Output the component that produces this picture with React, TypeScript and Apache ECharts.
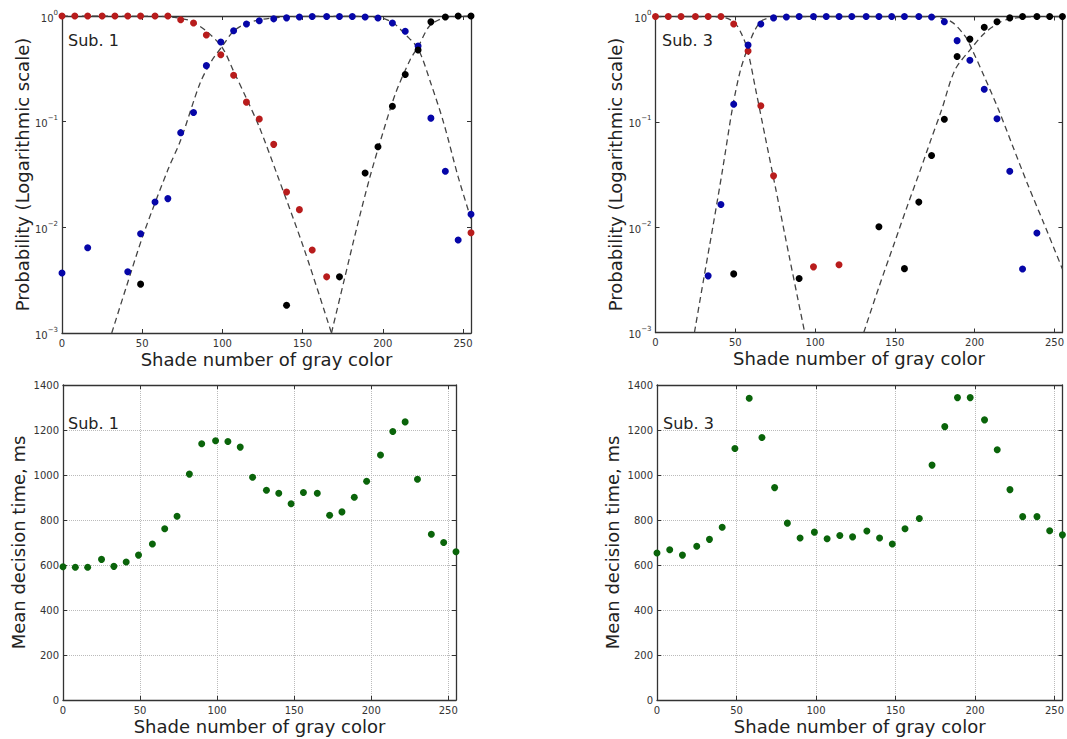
import React, { useEffect, useRef } from "react";
import * as echarts from "echarts";

// Shade numbers of the tested gray colours
const shades = [0, 8, 16, 25, 33, 41, 49, 58, 66, 74, 82, 90, 99, 107, 115, 123, 132, 140, 148, 156, 165, 173, 181, 189, 197, 206, 214, 222, 230, 239, 247, 255];

// Sub. 1 probabilities (null = not shown, below 1e-3)
const sub1Red = [1, 1, 1, 1, 1, 1, 1, 1, 1, 0.92, 0.86, 0.66, 0.43, 0.275, 0.153, 0.106, 0.061, 0.0216, 0.0147, 0.0061, 0.0034, null, null, null, null, null, null, null, null, null, null, 0.0089];
const sub1Blue = [0.0037, null, 0.0064, null, null, 0.0038, 0.0087, 0.0174, 0.0187, 0.0787, 0.122, 0.339, 0.568, 0.726, 0.84, 0.9, 0.94, 0.96, 0.98, 0.99, 0.99, 0.99, 0.99, 0.98, 0.957, 0.86, 0.716, 0.52, 0.108, 0.034, 0.0076, 0.0133];
const sub1Black = [null, null, null, null, null, null, 0.0029, null, null, null, null, null, null, null, null, null, null, 0.00183, null, null, null, 0.0034, null, 0.0327, 0.058, 0.14, 0.279, 0.477, 0.88, 0.98, 1, 1];

// Sub. 3 probabilities
const sub3Red = [1, 1, 1, 1, 1, 1, 0.85, 0.47, 0.142, 0.0307, null, null, 0.0042, null, 0.0044, null, null, null, null, null, null, null, null, null, null, null, null, null, null, null, null, null];
const sub3Blue = [null, null, null, null, 0.00345, 0.0164, 0.147, 0.535, 0.85, 0.97, 0.99, 1, 1, 1, 1, 1, 1, 1, 1, 1, 1, 0.99, 0.89, 0.59, 0.385, 0.204, 0.107, 0.034, 0.004, 0.0088, null, null];
const sub3Black = [null, null, null, null, null, null, 0.0036, null, null, null, null, 0.00325, null, null, null, null, null, 0.0101, null, 0.00404, 0.0173, 0.0479, 0.106, 0.417, 0.61, 0.79, 0.89, 0.97, 1, 1, 1, 1];

// Fitted (dashed) curves
const sub1RedFitX = [0, 40, 60, 70, 80, 90, 100, 107, 115, 123, 134, 151, 168];
const sub1RedFitP = [1, 0.999, 0.995, 0.97, 0.9, 0.72, 0.5, 0.3, 0.166, 0.089, 0.032, 0.0062, 0.001];
const sub1BlueFitX = [31, 40, 51, 66, 74, 86, 93, 100, 107, 115, 125, 140, 160, 180, 190, 200, 207, 214, 222, 230, 238, 247, 255];
const sub1BlueFitP = [0.001, 0.0027, 0.0088, 0.035, 0.067, 0.23, 0.37, 0.52, 0.72, 0.85, 0.93, 0.98, 0.995, 0.995, 0.985, 0.95, 0.85, 0.67, 0.49, 0.23, 0.097, 0.03, 0.012];
const sub1BlackFitX = [168, 176, 184, 192, 200, 208, 217, 222, 229, 237, 245, 255];
const sub1BlackFitP = [0.001, 0.0032, 0.0102, 0.03, 0.078, 0.186, 0.384, 0.51, 0.8, 0.95, 0.99, 1];

const sub3RedFitX = [0, 30, 40, 45, 50, 54, 57.7, 63, 69, 75, 84, 93.5];
const sub3RedFitP = [1, 0.999, 0.99, 0.96, 0.86, 0.68, 0.48, 0.195, 0.069, 0.0245, 0.0051, 0.001];
const sub3BlueFitX = [24.4, 30, 36, 42, 48.4, 53, 57.7, 62, 67, 75, 90, 172, 185, 194, 198, 206, 215, 224, 233, 243, 255];
const sub3BlueFitP = [0.001, 0.0031, 0.0102, 0.035, 0.14, 0.3, 0.5, 0.73, 0.92, 0.99, 1, 0.995, 0.9, 0.65, 0.5, 0.27, 0.13, 0.058, 0.026, 0.0112, 0.004];
const sub3BlackFitX = [130.5, 140, 150, 158, 166, 172.5, 179.3, 187.6, 198, 206, 215, 222, 235, 255];
const sub3BlackFitP = [0.001, 0.0027, 0.0073, 0.0162, 0.035, 0.067, 0.13, 0.31, 0.5, 0.69, 0.87, 0.95, 0.995, 1];

// Mean decision times (ms)
const sub1Time = [592, 590, 590, 625, 594, 613, 644, 693, 761, 817, 1004, 1139, 1152, 1149, 1124, 990, 932, 919, 872, 922, 919, 821, 836, 901, 972, 1089, 1193, 1236, 981, 737, 700, 659];
const sub3Time = [653, 668, 644, 683, 714, 768, 1118, 1341, 1167, 944, 786, 720, 746, 717, 731, 725, 751, 720, 693, 761, 807, 1044, 1215, 1344, 1344, 1245, 1112, 935, 815, 815, 752, 734];

const xTicks = [0, 50, 100, 150, 200, 250];

const FONT = "DejaVu Sans";
const AXIS_COLOR = "#333";
const LABEL_COLOR = "#333";
const RED = "#b81c1c";
const BLUE = "#0606a8";
const BLACK = "#000000";
const GREEN = "#0a640a";

function pairs(xs: number[], ys: (number | null)[]) {
  const out: number[][] = [];
  xs.forEach((x, i) => {
    const y = ys[i];
    if (y !== null && y !== undefined) out.push([x, y]);
  });
  return out;
}

const grids = [
  { left: 62, top: 16, width: 409, height: 317 },
  { left: 655.5, top: 16.5, width: 408.5, height: 316 },
  { left: 63, top: 385, width: 393, height: 315 },
  { left: 657, top: 385, width: 407, height: 315 },
];

function xAxesFor(g: number, grid: boolean) {
  const common = {
    type: "value",
    gridIndex: g,
    min: 0,
    max: 255,
    interval: 50,
    axisLine: { show: true, onZero: false, lineStyle: { color: AXIS_COLOR, width: 1.3 } },
    axisTick: { show: true, inside: true, length: 4, lineStyle: { color: AXIS_COLOR } },
  };
  return [
    {
      ...common,
      position: "bottom",
      name: "Shade number of gray color",
      nameLocation: "middle",
      nameGap: 17,
      nameTextStyle: { fontSize: 18, color: "#222", fontFamily: FONT },
      axisLabel: {
        fontSize: 10,
        color: LABEL_COLOR,
        fontFamily: FONT,
        margin: 5,
        formatter: (v: number) => (xTicks.includes(v) ? String(v) : ""),
      },
      splitLine: { show: grid, lineStyle: { type: "dotted", color: "#bbb", width: 1 } },
    },
    {
      ...common,
      position: "top",
      axisLabel: { show: false },
      splitLine: { show: false },
    },
  ];
}

function logYAxesFor(g: number) {
  const common = {
    type: "log",
    logBase: 10,
    gridIndex: g,
    min: 0.001,
    max: 1,
    axisLine: { show: true, onZero: false, lineStyle: { color: AXIS_COLOR, width: 1.3 } },
    axisTick: { show: true, inside: true, length: 4, lineStyle: { color: AXIS_COLOR } },
    splitLine: { show: false },
  };
  return [
    {
      ...common,
      position: "left",
      name: "Probability (Logarithmic scale)",
      nameLocation: "middle",
      nameGap: 31,
      nameTextStyle: { fontSize: 18, color: "#222", fontFamily: FONT },
      axisLabel: {
        margin: 4,
        formatter: (v: number) => {
          const e = Math.round(Math.log10(v));
          return `{b|10}{s|${e < 0 ? "\u2212" + -e : e}}`;
        },
        rich: {
          b: { fontSize: 10, color: LABEL_COLOR, fontFamily: FONT, lineHeight: 14, verticalAlign: "bottom" },
          s: { fontSize: 7, color: LABEL_COLOR, fontFamily: FONT, lineHeight: 14, verticalAlign: "top" },
        },
      },
    },
    { ...common, position: "right", axisLabel: { show: false } },
  ];
}

function linYAxesFor(g: number) {
  const common = {
    type: "value",
    gridIndex: g,
    min: 0,
    max: 1400,
    interval: 200,
    axisLine: { show: true, onZero: false, lineStyle: { color: AXIS_COLOR, width: 1.3 } },
    axisTick: { show: true, inside: true, length: 4, lineStyle: { color: AXIS_COLOR } },
  };
  return [
    {
      ...common,
      position: "left",
      name: "Mean decision time, ms",
      nameLocation: "middle",
      nameGap: 36,
      nameTextStyle: { fontSize: 18, color: "#222", fontFamily: FONT },
      axisLabel: {
        fontSize: 10,
        color: LABEL_COLOR,
        fontFamily: FONT,
        margin: 4,
        formatter: (v: number) => String(v),
      },
      splitLine: { show: true, lineStyle: { type: "dotted", color: "#bbb", width: 1 } },
    },
    { ...common, position: "right", axisLabel: { show: false }, splitLine: { show: false } },
  ];
}

function dots(g: number, data: number[][], color: string) {
  return {
    type: "scatter",
    xAxisIndex: 2 * g,
    yAxisIndex: 2 * g,
    data,
    symbol: "circle",
    symbolSize: 7,
    clip: false,
    itemStyle: { color, opacity: 1 },
    z: 3,
  };
}

function fit(g: number, xs: number[], ps: number[]) {
  return {
    type: "line",
    xAxisIndex: 2 * g,
    yAxisIndex: 2 * g,
    data: pairs(xs, ps),
    smooth: 0.3,
    showSymbol: false,
    symbol: "none",
    lineStyle: { color: "#444", width: 1.3, type: [6, 4] },
    z: 2,
  };
}

function subLabel(text: string, x: number, y: number) {
  return {
    type: "text",
    x,
    y,
    style: { text, fontSize: 16, fontFamily: FONT, fill: "#222", verticalAlign: "middle", align: "left" },
    z: 10,
  };
}

export default function App() {
  const ref = useRef<HTMLDivElement>(null);
  useEffect(() => {
    if (!ref.current) return;
    const chart = echarts.init(ref.current, null, { renderer: "svg" });
    const option: any = {
      animation: false,
      backgroundColor: "#ffffff",
      textStyle: { fontFamily: FONT },
      grid: grids.map((g) => ({ ...g, containLabel: false })),
      xAxis: [...xAxesFor(0, false), ...xAxesFor(1, false), ...xAxesFor(2, true), ...xAxesFor(3, true)],
      yAxis: [...logYAxesFor(0), ...logYAxesFor(1), ...linYAxesFor(2), ...linYAxesFor(3)],
      series: [
        fit(0, sub1RedFitX, sub1RedFitP),
        fit(0, sub1BlueFitX, sub1BlueFitP),
        fit(0, sub1BlackFitX, sub1BlackFitP),
        dots(0, pairs(shades, sub1Red), RED),
        dots(0, pairs(shades, sub1Blue), BLUE),
        dots(0, pairs(shades, sub1Black), BLACK),
        fit(1, sub3RedFitX, sub3RedFitP),
        fit(1, sub3BlueFitX, sub3BlueFitP),
        fit(1, sub3BlackFitX, sub3BlackFitP),
        dots(1, pairs(shades, sub3Red), RED),
        dots(1, pairs(shades, sub3Blue), BLUE),
        dots(1, pairs(shades, sub3Black), BLACK),
        dots(2, pairs(shades, sub1Time), GREEN),
        dots(3, pairs(shades, sub3Time), GREEN),
      ],
      graphic: [
        subLabel("Sub. 1", 68, 40),
        subLabel("Sub. 3", 662, 40),
        subLabel("Sub. 1", 68, 423),
        subLabel("Sub. 3", 663, 423),
      ],
    };
    chart.setOption(option);
    return () => chart.dispose();
  }, []);
  return (
    <div
      ref={ref}
      style={{ position: "fixed", left: 0, top: 0, width: 1067, height: 739, background: "#fff" }}
    />
  );
}
